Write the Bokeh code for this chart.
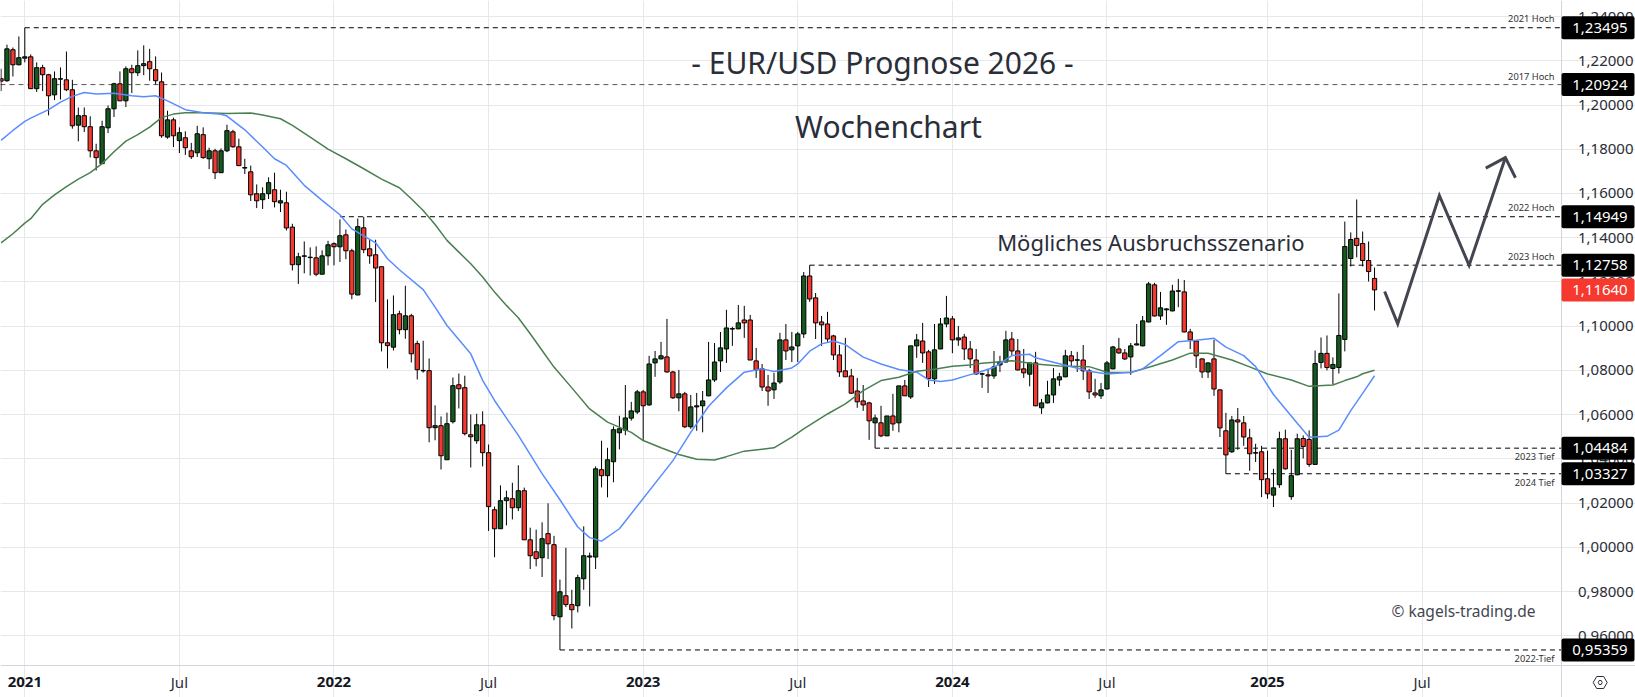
from bokeh.plotting import figure
from bokeh.models import FixedTicker, Label
from bokeh.embed import file_html
from bokeh.resources import INLINE

first_week = -4
opens = [
 1.2119,1.2110,1.2250,1.2182,1.2212,1.2218,1.2074,1.2169,1.2137,1.2046,
 1.2117,1.2114,1.2069,1.1909,1.1952,1.1902,1.1793,1.1735,1.1897,1.1983,
 1.2096,1.2019,1.2164,1.2146,1.2178,1.2196,1.2160,1.2105,1.1855,1.1933,
 1.1839,1.1852,1.1793,1.1784,1.1866,1.1757,1.1793,1.1694,1.1793,1.1879,
 1.1811,1.1715,1.1698,1.1599,1.1572,1.1599,1.1617,1.1557,1.1558,1.1448,
 1.1278,1.1316,1.1310,1.1309,1.1235,1.1318,1.1373,1.1359,1.1413,1.1341,
 1.1141,1.1445,1.1350,1.1323,1.1269,1.0925,1.0905,1.1056,1.0984,1.1047,
 1.0921,1.0798,1.0799,1.0541,1.0550,1.0396,1.0568,1.0735,1.0722,1.0509,
 1.0482,1.0554,1.0428,1.0170,1.0084,1.0211,1.0220,1.0179,1.0256,1.0034,
 0.9980,0.9953,1.0062,1.0012,0.9686,0.9781,0.9741,0.9736,0.9858,0.9956,
 0.9956,1.0351,1.0324,1.0387,1.0518,1.0530,1.0584,1.0612,1.0703,1.0644,
 1.0834,1.0852,1.0861,1.0793,1.0676,1.0694,1.0545,1.0635,1.0640,1.0685,
 1.0757,1.0843,1.0897,1.0987,1.0988,1.1028,1.1028,1.0843,1.0807,1.0725,
 1.0712,1.0748,1.0938,1.0893,1.0911,1.0965,1.1227,1.1128,1.1019,1.1010,
 1.0956,1.0870,1.0798,1.0775,1.0707,1.0662,1.0653,1.0563,1.0563,1.0504,
 1.0594,1.0563,1.0730,1.0680,1.0911,1.0933,1.0884,1.0762,1.0897,1.1010,
 1.1033,1.0938,1.0951,1.0897,1.0847,1.0785,1.0780,1.0775,1.0825,1.0838,
 1.0942,1.0888,1.0807,1.0783,1.0834,1.0631,1.0653,1.0689,1.0757,1.0771,
 1.0866,1.0846,1.0847,1.0798,1.0698,1.0685,1.0716,1.0807,1.0897,1.0879,
 1.0861,1.0915,1.0911,1.1019,1.1187,1.1046,1.1074,1.1069,1.1158,1.1155,
 1.0974,1.0933,1.0852,1.0793,1.0852,1.0712,1.0527,1.0432,1.0576,1.0563,
 1.0495,1.0426,1.0432,1.0310,1.0236,1.0283,1.0491,1.0229,1.0328,1.0492,
 1.0488,1.0375,1.0836,1.0877,1.0809,1.0813,1.0940,1.1306,1.1397,1.1374,
 1.1297,1.1216]
highs = [
 1.2164,1.2273,1.2260,1.2310,1.23495,1.2229,1.2193,1.2182,1.2141,1.2152,
 1.2170,1.2242,1.2114,1.1989,1.1989,1.1949,1.1825,1.1929,1.1998,1.2101,
 1.2152,1.2175,1.2182,1.2247,1.2270,1.2254,1.2220,1.2147,1.1974,1.1943,
 1.1899,1.1881,1.1829,1.1906,1.1899,1.1807,1.1802,1.1804,1.1911,1.1888,
 1.1848,1.1757,1.1726,1.1641,1.1628,1.1673,1.1694,1.1617,1.1608,1.1463,
 1.1332,1.1383,1.1356,1.1361,1.1343,1.1386,1.1379,1.1483,1.1437,1.1350,
 1.1487,1.14949,1.1391,1.1391,1.1269,1.1121,1.1139,1.1070,1.1183,1.1056,
 1.0934,1.0934,1.0854,1.0642,1.0592,1.0609,1.0768,1.0786,1.0776,1.0601,
 1.0604,1.0615,1.0465,1.0184,1.0280,1.0256,1.0292,1.0371,1.0270,1.0089,
 1.0080,1.0113,1.0199,1.0052,0.9854,0.9998,0.9808,0.9876,1.0095,0.9976,
 1.0366,1.0482,1.0450,1.0547,1.0595,1.0734,1.0658,1.0712,1.0712,1.0866,
 1.0888,1.0929,1.1033,1.0798,1.0802,1.0703,1.0689,1.0698,1.0707,1.0929,
 1.0924,1.0974,1.1074,1.0997,1.1096,1.1092,1.1051,1.0902,1.0829,1.0780,
 1.0789,1.0970,1.1010,1.0974,1.0974,1.1245,1.12758,1.1150,1.1046,1.1065,
 1.0961,1.0915,1.0947,1.0807,1.0766,1.0734,1.0658,1.0600,1.0640,1.0594,
 1.0694,1.0730,1.0757,1.0911,1.0965,1.1015,1.0893,1.1010,1.1037,1.1137,
 1.1046,1.1001,1.0965,1.0933,1.0897,1.0789,1.0807,1.0888,1.0866,1.0979,
 1.0974,1.0942,1.0897,1.0836,1.0884,1.0671,1.0753,1.0811,1.0789,1.0893,
 1.0888,1.0884,1.0915,1.0807,1.0762,1.0743,1.0843,1.0911,1.0947,1.0897,
 1.0924,1.1010,1.1046,1.1200,1.1196,1.1155,1.1082,1.1187,1.1214,1.1209,
 1.0988,1.0938,1.0854,1.0836,1.0938,1.0714,1.0608,1.0594,1.0630,1.0594,
 1.0536,1.0468,1.0459,1.0437,1.0355,1.0523,1.0532,1.0441,1.0514,1.0506,
 1.0529,1.0890,1.0949,1.0958,1.0859,1.1148,1.1473,1.1424,1.1573,1.1428,
 1.1383,1.1265]
lows = [
 1.2063,1.2105,1.2129,1.2180,1.2193,1.2072,1.2059,1.2063,1.1953,1.2022,
 1.2025,1.2063,1.1893,1.1836,1.1878,1.1763,1.1704,1.1733,1.1873,1.1946,
 1.2018,1.1991,1.2054,1.2131,1.2135,1.2110,1.2093,1.1852,1.1848,1.1810,
 1.1783,1.1774,1.1756,1.1765,1.1757,1.1710,1.1665,1.1693,1.1787,1.1807,
 1.1724,1.1688,1.1566,1.1534,1.1530,1.1575,1.1537,1.1516,1.1433,1.1252,
 1.1191,1.1239,1.1229,1.1226,1.1235,1.1275,1.1275,1.1290,1.1303,1.1122,
 1.1140,1.1330,1.1282,1.1109,1.0886,1.0809,1.0890,1.0963,1.0943,1.0836,
 1.0759,1.0790,1.0475,1.0484,1.0352,1.0396,1.0560,1.0628,1.0506,1.0361,
 1.0468,1.0366,1.0074,0.9955,1.0084,1.0099,1.0126,1.0164,1.0034,0.9902,
 0.9914,0.9866,0.9947,0.9670,0.95359,0.9730,0.9633,0.9706,0.9808,0.9733,
 0.9902,1.0271,1.0226,1.0294,1.0443,1.0507,1.0573,1.0603,1.0483,1.0640,
 1.0771,1.0850,1.0790,1.0671,1.0615,1.0540,1.0536,1.0527,1.0520,1.0683,
 1.0748,1.0793,1.0834,1.0911,1.0986,1.0947,1.0847,1.0766,1.0707,1.0640,
 1.0671,1.0739,1.0847,1.0838,1.0838,1.0947,1.1110,1.0942,1.0911,1.0929,
 1.0847,1.0771,1.0771,1.0694,1.0631,1.0617,1.0486,1.04484,1.0498,1.0504,
 1.0527,1.0520,1.0685,1.0671,1.0857,1.0834,1.0725,1.0739,1.0897,1.0995,
 1.0878,1.0911,1.0847,1.0811,1.0780,1.0721,1.0698,1.0762,1.0793,1.0836,
 1.0870,1.0800,1.0766,1.0728,1.0638,1.0603,1.0651,1.0653,1.0730,1.0769,
 1.0816,1.0793,1.0757,1.0671,1.0676,1.0671,1.0714,1.0805,1.0875,1.0847,
 1.0780,1.0913,1.0909,1.1017,1.1044,1.1028,1.1006,1.1067,1.1086,1.0972,
 1.0897,1.0811,1.0766,1.0766,1.0685,1.0499,1.03327,1.0427,1.0441,1.0459,
 1.0346,1.0386,1.0227,1.0220,1.0182,1.0269,1.0351,1.0215,1.0326,1.0402,
 1.0364,1.0373,1.0809,1.0800,1.0736,1.0786,1.0886,1.1270,1.1311,1.1270,
 1.1202,1.1071]
closes = [
 1.2108,1.2254,1.2182,1.2214,1.2218,1.2074,1.2169,1.2137,1.2042,1.2119,
 1.2119,1.2069,1.1906,1.1952,1.1902,1.1793,1.1762,1.1902,1.1983,1.2096,
 1.2019,1.2164,1.2146,1.2178,1.2187,1.2164,1.2110,1.1861,1.1933,1.1861,
 1.1875,1.1807,1.1766,1.1870,1.1762,1.1793,1.1694,1.1793,1.1884,1.1811,
 1.1726,1.1717,1.1594,1.1567,1.1599,1.1649,1.1563,1.1567,1.1444,1.1278,
 1.1314,1.1318,1.1312,1.1235,1.1318,1.1368,1.1359,1.1409,1.1341,1.1145,
 1.1450,1.1346,1.1318,1.1263,1.0925,1.0912,1.1052,1.0984,1.1047,1.0875,
 1.0803,1.0800,1.0541,1.0550,1.0414,1.0559,1.0731,1.0717,1.0514,1.0500,
 1.0554,1.0428,1.0184,1.0084,1.0211,1.0224,1.0179,1.0256,1.0034,0.9962,
 0.9949,1.0039,1.0016,0.9691,0.9799,0.9741,0.9718,0.9863,0.9962,0.9961,
 1.0355,1.0324,1.0396,1.0532,1.0536,1.0585,1.0617,1.0703,1.0640,1.0829,
 1.0852,1.0866,1.0793,1.0676,1.0694,1.0545,1.0635,1.0640,1.0662,1.0757,
 1.0838,1.0902,1.0992,1.0989,1.1015,1.1015,1.0847,1.0802,1.0725,1.0707,
 1.0743,1.0938,1.0888,1.0906,1.0965,1.1227,1.1123,1.1015,1.1006,1.0942,
 1.0870,1.0793,1.0771,1.0697,1.0658,1.0644,1.0572,1.0585,1.0504,1.0594,
 1.0558,1.0730,1.0685,1.0911,1.0938,1.0879,1.0763,1.0893,1.1010,1.1037,
 1.0938,1.0947,1.0897,1.0852,1.0784,1.0783,1.0775,1.0816,1.0838,1.0938,
 1.0888,1.0802,1.0789,1.0834,1.0640,1.0653,1.0689,1.0762,1.0771,1.0866,
 1.0843,1.0848,1.0798,1.0703,1.0689,1.0712,1.0834,1.0906,1.0879,1.0852,
 1.0911,1.0920,1.1024,1.1191,1.1046,1.1083,1.1078,1.1159,1.1160,1.0974,
 1.0938,1.0866,1.0793,1.0834,1.0716,1.0540,1.0418,1.0576,1.0567,1.0499,
 1.0423,1.0428,1.0306,1.0242,1.0269,1.0491,1.0355,1.0324,1.0491,1.0456,
 1.0375,1.0831,1.0877,1.0813,1.0827,1.0958,1.1360,1.1392,1.1365,1.1297,
 1.1247,1.1164]

blue_weeks = [-4,-2,0,1,4,6,8,10,12,15,18,20,22,24,27,30,33,34,37,40,42,44,47,50,53,55,59,61,63,67,69,71,75,77,79,83,87,90,93,95,97,100,
              109,112,115,118,121,124,126,129,130,132,134,136,138,141,144,147,150,152,154,156,159,160,163,166,169,170,173,176,179,182,186,188,191,194,197,200,202,205,207,210,214,216,219,221,223,225,227]
blue_ma = [1.1840,1.1885,1.1926,1.1941,1.1979,1.2013,1.2039,1.2057,1.2050,1.2053,1.2042,1.2037,1.2042,1.2019,1.1979,1.1965,1.1958,1.1950,1.1888,1.1810,1.1757,1.1727,1.1637,1.1569,1.1504,1.1440,1.1377,1.1305,1.1255,1.1165,1.1086,1.1003,1.0875,1.0755,1.0664,1.0506,1.0333,1.0215,1.0092,1.0044,1.0028,1.0084,
           1.0392,1.0520,1.0638,1.0721,1.0792,1.0807,1.0795,1.0811,1.0829,1.0887,1.0920,1.0933,1.0917,1.0860,1.0829,1.0804,1.0792,1.0757,1.0750,1.0757,1.0781,1.0787,1.0814,1.0867,1.0873,1.0857,1.0837,1.0817,1.0796,1.0784,1.0792,1.0807,1.0867,1.0930,1.0936,1.0945,1.0905,1.0867,1.0817,1.0691,1.0561,1.0498,1.0502,1.0530,1.0618,1.0696,1.0776]
green_weeks = [-4,-2,0,1,3,5,7,9,11,13,15,17,19,21,23,25,27,30,34,38,40,43,45,48,51,54,57,60,63,65,67,69,71,73,75,77,79,81,83,85,87,89,92,95,98,102,104,107,110,113,116,118,121,124,126,129,131,135,138,141,144,147,150,153,156,159,161,166,170,174,179,182,186,190,193,196,199,203,206,209,213,216,220,222,224,225,227]
green_ma = [1.1377,1.1418,1.1466,1.1486,1.1551,1.1594,1.1631,1.1665,1.1694,1.1735,1.1789,1.1837,1.1866,1.1900,1.1943,1.1959,1.1965,1.1965,1.1962,1.1964,1.1955,1.1938,1.1908,1.1855,1.1801,1.1757,1.1712,1.1665,1.1626,1.1576,1.1523,1.1460,1.1388,1.1335,1.1282,1.1222,1.1154,1.1094,1.1038,1.0966,1.0890,1.0815,1.0721,1.0626,1.0566,1.0520,1.0483,1.0450,1.0420,1.0398,1.0395,1.0410,1.0435,1.0444,1.0450,1.0498,1.0536,1.0603,1.0649,1.0709,1.0754,1.0769,1.0796,1.0805,1.0819,1.0825,1.0832,1.0844,1.0829,1.0820,1.0817,1.0792,1.0790,1.0822,1.0847,1.0878,1.0878,1.0847,1.0816,1.0784,1.0757,1.0728,1.0734,1.0754,1.0771,1.0785,1.0801]

level_values = [1.23495, 1.20924, 1.14949, 1.12758, 1.04484, 1.03327, 0.95359]
level_starts = [0, -4.1, 53, 132, 143, 202, 90]
level_names = ["2021 Hoch", "2017 Hoch", "2022 Hoch", "2023 Hoch", "2023 Tief", "2024 Tief", "2022-Tief"]
last_price = 1.1164

scenario_weeks = [228.7, 230.9, 237.9, 242.9, 249.0]
scenario_prices = [1.1157, 1.1011, 1.1591, 1.1275, 1.1762]
arrow_weeks = [245.7, 249.0, 250.7]
arrow_prices = [1.1715, 1.1762, 1.1671]

tick_weeks = [0, 26, 52, 78, 104, 130, 156, 182, 209, 235]
tick_labels = ["2021", "Jul", "2022", "Jul", "2023", "Jul", "2024", "Jul", "2025", "Jul"]
price_ticks = [0.96, 0.98, 1.00, 1.02, 1.04, 1.06, 1.08, 1.10, 1.12, 1.14, 1.16, 1.18, 1.20, 1.22, 1.24]

def xpx(px):
    return (px - 24.3) / 5.946
def ypx(py):
    return 1.22 - (py - 60.3) / 2211.5

X0, X1 = xpx(0), xpx(1635)
Y0, Y1 = ypx(697), ypx(0)
X_SCALE, Y_SCALE = xpx(1560.5), ypx(664.5)
FONT = "Noto Sans"
INK = "#2a2e39"

p = figure(width=1635, height=697, output_backend="svg", toolbar_location=None,
           x_range=(X0, X1), y_range=(Y0, Y1), y_axis_location="right",
           min_border_left=0, min_border_top=0, min_border_right=0, min_border_bottom=0,
           outline_line_color=None, background_fill_color="white", border_fill_color="white")

p.xgrid.ticker = FixedTicker(ticks=tick_weeks)
p.ygrid.ticker = FixedTicker(ticks=price_ticks)
p.xgrid[0].bounds = (Y_SCALE, Y1)
p.ygrid[0].bounds = (X0, X_SCALE)
for g in (p.xgrid[0], p.ygrid[0]):
    g.grid_line_color = "#e7e8ec"
    g.grid_line_width = 1

xa = p.xaxis[0]
xa.fixed_location = Y_SCALE
xa.ticker = FixedTicker(ticks=tick_weeks)
xa.axis_line_color = "#d1d4dc"
xa.major_tick_line_color = None
xa.minor_tick_line_color = None
xa.major_label_text_font_size = "0px"
xa.major_label_text_color = None

ya = p.yaxis[0]
ya.fixed_location = X_SCALE
ya.ticker = FixedTicker(ticks=price_ticks)
ya.axis_line_color = "#d1d4dc"
ya.major_tick_line_color = None
ya.minor_tick_line_color = None
ya.major_label_standoff = 11
ya.major_label_text_font = FONT
ya.major_label_text_font_size = "15px"
ya.major_label_text_color = INK
ya.major_label_overrides = {v: f"{v:.5f}".replace(".", ",") for v in price_ticks}

weeks = [first_week + k for k in range(len(opens))]
up = [c >= o for o, c in zip(opens, closes)]
colors = ["#15591e" if u else "#f5392f" for u in up]
tops = [max(o, c) for o, c in zip(opens, closes)]
bottoms = [min(o, c) for o, c in zip(opens, closes)]

for val, start, dark in zip(level_values, level_starts, [1, 0, 1, 1, 1, 1, 1]):
    p.line([start, X_SCALE], [val, val], line_color="black" if dark else "#555555",
           line_width=1, line_dash=[5, 4])

p.segment(weeks, highs, weeks, lows, line_color="black", line_width=1)
p.vbar(x=weeks, top=tops, bottom=bottoms, width=0.72, fill_color=colors, line_color="black", line_width=1)
p.line(green_weeks, green_ma, line_color="#4a7f52", line_width=1.5, line_join="round")
p.line(blue_weeks, blue_ma, line_color="#5b8cff", line_width=1.5, line_join="round")
p.line(scenario_weeks, scenario_prices, line_color="#434651", line_width=3, line_join="miter")
p.line(arrow_weeks, arrow_prices, line_color="#434651", line_width=3, line_join="miter")

def text(t, x, y, size, color=INK, align="center", style="normal", baseline="alphabetic", **kw):
    p.add_layout(Label(x=x, y=y, text=t, text_font=FONT, text_font_size=f"{size}px", text_color=color,
                       text_align=align, text_baseline=baseline, text_font_style=style, level="overlay", **kw))

text("- EUR/USD Prognose 2026 -", xpx(882), ypx(61.8), 30)
text("Wochenchart", xpx(888), ypx(125.8), 30)
text("Mögliches Ausbruchsszenario", xpx(1304), ypx(241), 22, align="right")
text("© kagels-trading.de", xpx(1535), ypx(610.5), 15.5, color="#434651", align="right")

name_pos = [18.3, 75.7, 207.3, 256.3, 455.7, 481.7, 657.7]
for name, py in zip(level_names, name_pos):
    text(name, xpx(1554), ypx(py), 9.3, color="#333333", align="right", baseline="middle")

for lab, wk in zip(tick_labels, tick_weeks):
    is_year = lab != "Jul"
    text(lab, wk, ypx(681), 15, color="#131722" if is_year else INK,
         style="bold" if is_year else "normal", baseline="middle")

def tag(val, color):
    half = 11.5 / 2211.5
    p.quad(left=xpx(1561), right=xpx(1634), top=val + half, bottom=val - half,
           fill_color=color, line_color=None, border_radius=2, level="overlay")
    text(f"{val:.5f}".replace(".", ","), xpx(1571.7), val, 15, color="white", align="left", baseline="middle")

for val in level_values:
    tag(val, "black")
tag(last_price, "#f5392f")

# settings icon below the price scale
cx, cy = 1599.7, 682.0
hexa = [(-7, 0), (-3.5, -6), (3.5, -6), (7, 0), (3.5, 6), (-3.5, 6), (-7, 0)]
p.line([xpx(cx + a) for a, b in hexa], [ypx(cy + b) for a, b in hexa], line_color=INK, line_width=1)
ring = [(-2, 0), (-1, -2), (1, -2), (2, 0), (1, 2), (-1, 2), (-2, 0)]
p.line([xpx(cx + a) for a, b in ring], [ypx(cy + b) for a, b in ring], line_color=INK, line_width=1)

open("out.html", "w").write(file_html(p, INLINE))
